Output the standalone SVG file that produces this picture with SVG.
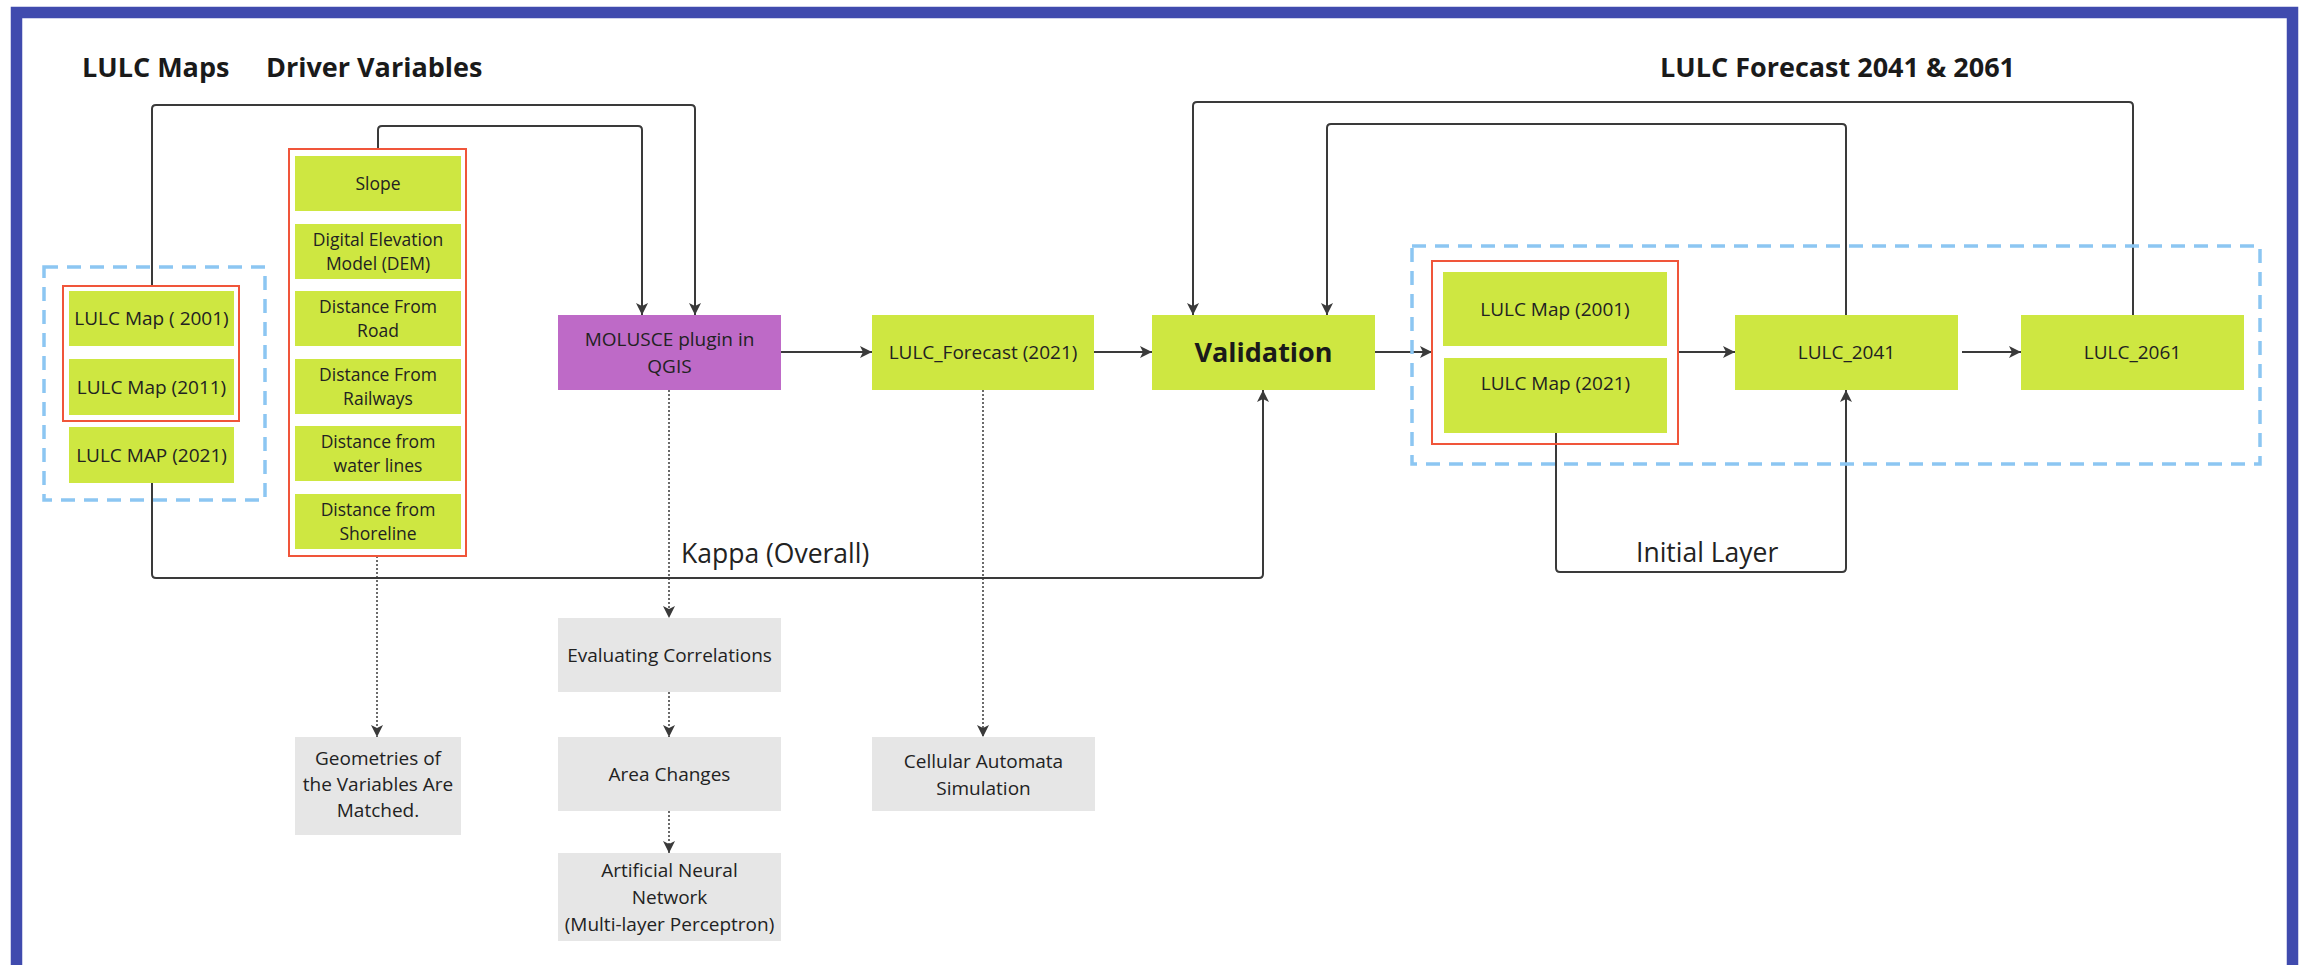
<svg xmlns="http://www.w3.org/2000/svg" width="2308" height="965" viewBox="0 0 2308 965">
<defs>
<marker id="arr" markerUnits="userSpaceOnUse" markerWidth="14" markerHeight="12" refX="12" refY="6" orient="auto">
<path d="M0,0 L12,6 L0,12 L3,6 Z" fill="#3a3a3a"/>
</marker>
<style>
.g{fill:#CEE741;}
.p{fill:#BE6AC7;}
.gr{fill:#E6E6E6;}
.red{fill:none;stroke:#F0553A;stroke-width:2;}
.dash{fill:none;stroke:#8CC6F2;stroke-width:3.5;stroke-dasharray:14 9;}
.t{font-family:"Open Sans","Liberation Sans",sans-serif;fill:#222222;text-anchor:middle;}
.s{font-size:17.5px;}
.m{font-size:19px;}
.b{font-size:27px;font-weight:bold;fill:#1a1a1a;}
.h{font-family:"Open Sans","Liberation Sans",sans-serif;fill:#1a1a1a;font-size:27px;font-weight:bold;}
.lbl{font-family:"Open Sans","Liberation Sans",sans-serif;fill:#222222;font-size:26.5px;}
.c{fill:none;stroke:#3a3a3a;stroke-width:2;}
.d{fill:none;stroke:#3a3a3a;stroke-width:1.5;stroke-dasharray:2 2;}
</style>
</defs>
<rect x="16.5" y="12.5" width="2276" height="962" fill="#ffffff" stroke="#404BAE" stroke-width="11.5"/>

<g id="titles">
<text class="h" x="82" y="77">LULC Maps</text>
<text class="h" x="266" y="77">Driver Variables</text>
<text class="h" x="1660" y="77">LULC Forecast 2041 &amp; 2061</text>
</g>

<g id="connectors">
<path class="c" d="M152,286 V109 Q152,105 156,105 H691 Q695,105 695,109 V315" marker-end="url(#arr)"/>
<path class="c" d="M378,149 V130 Q378,126 382,126 H638 Q642,126 642,130 V315" marker-end="url(#arr)"/>
<path class="c" d="M152,483 V574 Q152,578 156,578 H1259 Q1263,578 1263,574 V390" marker-end="url(#arr)"/>
<path class="c" d="M781,352 H872" marker-end="url(#arr)"/>
<path class="c" d="M1094,352 H1152" marker-end="url(#arr)"/>
<path class="c" d="M1375,352 H1432" marker-end="url(#arr)"/>
<path class="c" d="M1678,352 H1735" marker-end="url(#arr)"/>
<path class="c" d="M1962,352 H2021" marker-end="url(#arr)"/>
<path class="c" d="M1846,315 V128 Q1846,124 1842,124 H1331 Q1327,124 1327,128 V315" marker-end="url(#arr)"/>
<path class="c" d="M2133,315 V106 Q2133,102 2129,102 H1197 Q1193,102 1193,106 V315" marker-end="url(#arr)"/>
<path class="c" d="M1556,433 V568 Q1556,572 1560,572 H1842 Q1846,572 1846,568 V390" marker-end="url(#arr)"/>
<path class="d" d="M377,556 V737" marker-end="url(#arr)"/>
<path class="d" d="M669,390 V618" marker-end="url(#arr)"/>
<path class="d" d="M669,692 V737" marker-end="url(#arr)"/>
<path class="d" d="M669,811 V853" marker-end="url(#arr)"/>
<path class="d" d="M983,390 V737" marker-end="url(#arr)"/>
<text class="lbl" x="681" y="563">Kappa (Overall)</text>
<text class="lbl" x="1636" y="562">Initial Layer</text>
</g>

<g id="lulc-maps">
<rect class="dash" x="44" y="267" width="221" height="233"/>
<rect class="red" x="63" y="286" width="176" height="135"/>
<rect class="g" x="69" y="291" width="165" height="55"/>
<text class="t m" x="151.5" y="325">LULC Map ( 2001)</text>
<rect class="g" x="69" y="359" width="165" height="56"/>
<text class="t m" x="151.5" y="393.5">LULC Map (2011)</text>
<rect class="g" x="69" y="427" width="165" height="56"/>
<text class="t m" x="151.5" y="461.5">LULC MAP (2021)</text>
</g>

<g id="driver-variables">
<rect class="red" x="289" y="149" width="177" height="407"/>
<rect class="g" x="295" y="156" width="166" height="55"/>
<text class="t s" x="378" y="189.5">Slope</text>
<rect class="g" x="295" y="224" width="166" height="55"/>
<text class="t s" x="378" y="246">Digital Elevation</text>
<text class="t s" x="378" y="270">Model (DEM)</text>
<rect class="g" x="295" y="291" width="166" height="55"/>
<text class="t s" x="378" y="313">Distance From</text>
<text class="t s" x="378" y="337">Road</text>
<rect class="g" x="295" y="359" width="166" height="55"/>
<text class="t s" x="378" y="381">Distance From</text>
<text class="t s" x="378" y="405">Railways</text>
<rect class="g" x="295" y="426" width="166" height="55"/>
<text class="t s" x="378" y="448">Distance from</text>
<text class="t s" x="378" y="472">water lines</text>
<rect class="g" x="295" y="494" width="166" height="55"/>
<text class="t s" x="378" y="516">Distance from</text>
<text class="t s" x="378" y="540">Shoreline</text>
</g>

<g id="molusce">
<rect class="p" x="558" y="315" width="223" height="75"/>
<text class="t m" x="669.5" y="346">MOLUSCE plugin in</text>
<text class="t m" x="669.5" y="373">QGIS</text>
</g>

<g id="lulc-forecast-2021">
<rect class="g" x="872" y="315" width="222" height="75"/>
<text class="t m" x="983" y="359">LULC_Forecast (2021)</text>
</g>

<g id="validation">
<rect class="g" x="1152" y="315" width="223" height="75"/>
<text class="t b" x="1263.5" y="362">Validation</text>
</g>

<g id="forecast-inputs">
<rect class="dash" x="1412" y="246" width="848" height="218"/>
<rect class="red" x="1432" y="261" width="246" height="183"/>
<rect class="g" x="1443" y="272" width="224" height="74"/>
<text class="t m" x="1555" y="316">LULC Map (2001)</text>
<rect class="g" x="1444" y="358" width="223" height="75"/>
<text class="t m" x="1555.5" y="390">LULC Map (2021)</text>
</g>

<g id="lulc-2041">
<rect class="g" x="1735" y="315" width="223" height="75"/>
<text class="t m" x="1846.5" y="359">LULC_2041</text>
</g>

<g id="lulc-2061">
<rect class="g" x="2021" y="315" width="223" height="75"/>
<text class="t m" x="2132.5" y="359">LULC_2061</text>
</g>

<g id="geometries">
<rect class="gr" x="295" y="737" width="166" height="98"/>
<text class="t m" x="378" y="765">Geometries of</text>
<text class="t m" x="378" y="791">the Variables Are</text>
<text class="t m" x="378" y="817">Matched.</text>
</g>

<g id="evaluating-correlations">
<rect class="gr" x="558" y="618" width="223" height="74"/>
<text class="t m" x="669.5" y="662">Evaluating Correlations</text>
</g>

<g id="area-changes">
<rect class="gr" x="558" y="737" width="223" height="74"/>
<text class="t m" x="669.5" y="781">Area Changes</text>
</g>

<g id="ann">
<rect class="gr" x="558" y="853" width="223" height="88"/>
<text class="t m" x="669.5" y="877">Artificial Neural</text>
<text class="t m" x="669.5" y="904">Network</text>
<text class="t m" x="669.5" y="931">(Multi-layer Perceptron)</text>
</g>

<g id="cellular-automata">
<rect class="gr" x="872" y="737" width="223" height="74"/>
<text class="t m" x="983.5" y="768">Cellular Automata</text>
<text class="t m" x="983.5" y="795">Simulation</text>
</g>
</svg>
